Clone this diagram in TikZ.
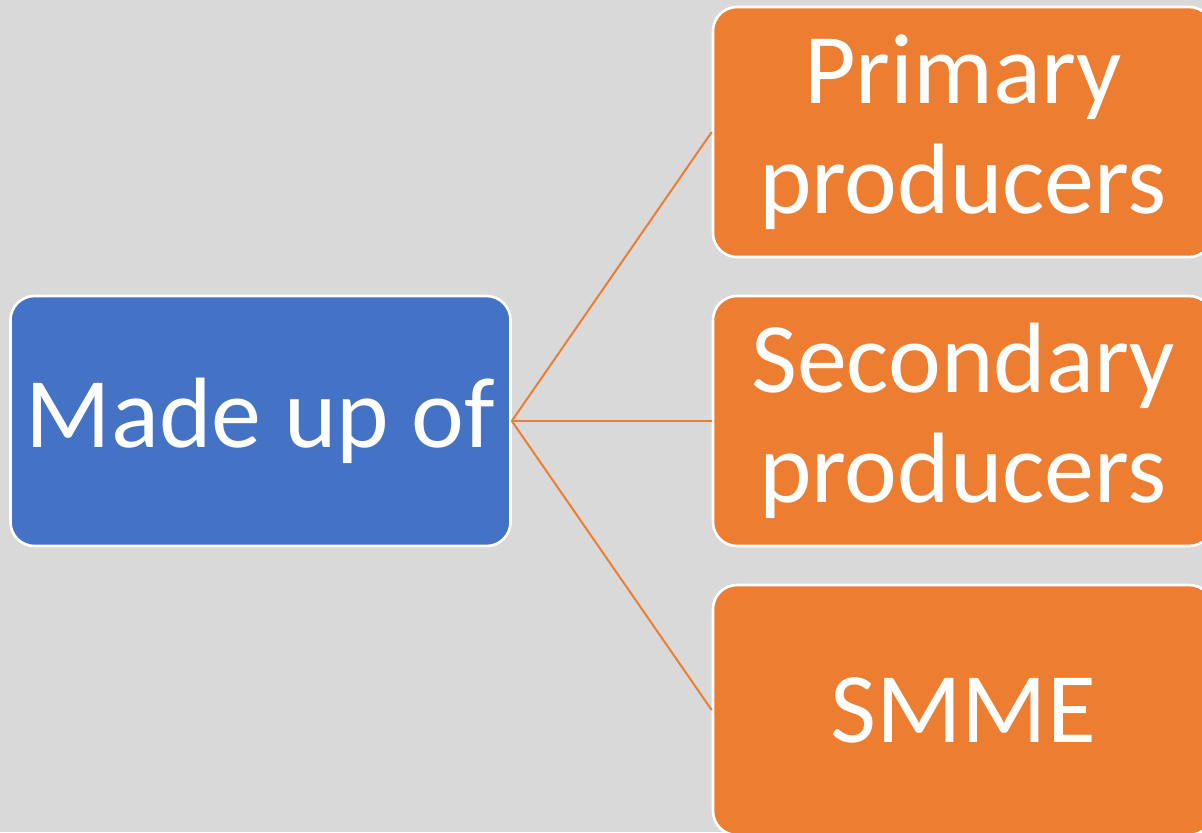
\documentclass[tikz,border=0pt]{standalone}
\usepackage{fontspec}
\setmainfont{Carlito}
\usepackage{tikz}
\definecolor{bgGray}{HTML}{D9D9D9}
\definecolor{hubBlue}{HTML}{4472C4}
\definecolor{leafOrange}{HTML}{ED7D31}
\tikzstyle{Hub}=[rectangle, rounded corners=12pt, minimum width=250pt, minimum height=125pt, fill=hubBlue, draw=white, line width=1.3pt, text=white, align=center, font=\fontsize{50}{56}\selectfont]
\tikzstyle{Leaf}=[rectangle, rounded corners=12pt, minimum width=250pt, minimum height=125pt, fill=leafOrange, draw=white, line width=1.3pt, text=white, align=center, font=\fontsize{50}{55}\selectfont]

\begin{document}
\begin{tikzpicture}[x=0.5pt, y=-0.5pt]
    \useasboundingbox (0,0) rectangle (1202,832);
    \clip (0,0) rectangle (1202,832);
    \fill[bgGray] (0,0) rectangle (1202,832);
    \path
    (260.5,421) node[Hub] (made) {Made up of}
    (963,132) node[Leaf] (primary) {Primary\\producers}
    (963,421) node[Leaf] (secondary) {Secondary\\producers}
    (963,710) node[Leaf] (smme) {SMME};

    \draw[leafOrange, line width=1pt] (made.east) -- (primary.west);
    \draw[leafOrange, line width=1pt] (made.east) -- (secondary.west);
    \draw[leafOrange, line width=1pt] (made.east) -- (smme.west);
\end{tikzpicture}
\end{document}
